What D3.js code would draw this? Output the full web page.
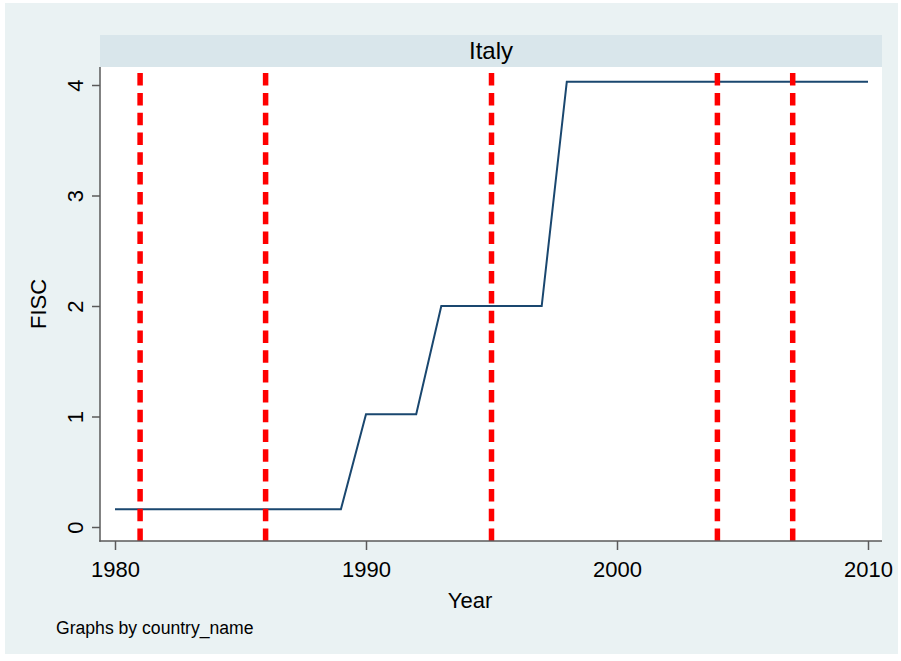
<!DOCTYPE html>
<html>
<head>
<meta charset="utf-8">
<script src="https://cdn.jsdelivr.net/npm/d3@7"></script>
<style>
  html, body { margin: 0; padding: 0; background: #ffffff; }
  svg { display: block; }
  text { font-family: "Liberation Sans", Arial, sans-serif; fill: #000; }
</style>
</head>
<body>
<svg id="chart" width="901" height="661"></svg>
<script>
// FISC index for Italy, by year
const years = [1980, 1981, 1982, 1983, 1984, 1985, 1986, 1987, 1988, 1989,
               1990, 1991, 1992, 1993, 1994, 1995, 1996, 1997, 1998, 1999,
               2000, 2001, 2002, 2003, 2004, 2005, 2006, 2007, 2008, 2009, 2010];
const fisc = [0.16, 0.16, 0.16, 0.16, 0.16, 0.16, 0.16, 0.16, 0.16, 0.16,
              1.02, 1.02, 1.02, 2.0, 2.0, 2.0, 2.0, 2.0, 4.03, 4.03,
              4.03, 4.03, 4.03, 4.03, 4.03, 4.03, 4.03, 4.03, 4.03, 4.03, 4.03];
// Years marked with vertical reference lines
const markYears = [1981, 1986, 1995, 2004, 2007];
const xTicks = [1980, 1990, 2000, 2010];
const yTicks = [0, 1, 2, 3, 4];
const panelTitle = "Italy";
const xTitle = "Year";
const yTitle = "FISC";
const note = "Graphs by country_name";

const svg = d3.select("#chart");

// plot region bounds
const plot = { left: 100, right: 882, top: 67, bottom: 541 };
const strip = { top: 35, bottom: 67 };

// outer graph background
svg.append("rect")
  .attr("x", 5).attr("y", 3).attr("width", 893).attr("height", 651)
  .attr("fill", "#eaf2f3");

// white plot region
svg.append("rect")
  .attr("x", plot.left).attr("y", plot.top)
  .attr("width", plot.right - plot.left).attr("height", plot.bottom - plot.top)
  .attr("fill", "#ffffff");

// panel strip
svg.append("rect")
  .attr("x", plot.left).attr("y", strip.top)
  .attr("width", plot.right - plot.left).attr("height", strip.bottom - strip.top)
  .attr("fill", "#d9e6eb");
svg.append("text")
  .attr("x", (plot.left + plot.right) / 2).attr("y", 59)
  .attr("text-anchor", "middle")
  .style("font-size", "24px")
  .text(panelTitle);

const x = d3.scaleLinear().domain([1980, 2010]).range([115, 868]);
const y = d3.scaleLinear().domain([0, 4]).range([527, 85]);

// data line
const line = d3.line()
  .x((d, i) => x(years[i]))
  .y(d => y(d));
svg.append("path")
  .datum(fisc)
  .attr("d", line)
  .attr("fill", "none")
  .attr("stroke", "#1a476f")
  .attr("stroke-width", 2)
  .attr("stroke-linejoin", "miter");

// dashed reference lines, drawn upward from the x axis
svg.append("g")
  .selectAll("line")
  .data(markYears)
  .join("line")
  .attr("x1", d => x(d)).attr("x2", d => x(d))
  .attr("y1", plot.bottom).attr("y2", plot.top)
  .attr("stroke", "#ff0000")
  .attr("stroke-width", 5.5)
  .attr("stroke-dasharray", "12.5,7.3");

// y axis
const yAxis = d3.axisLeft(y)
  .tickValues(yTicks)
  .tickSize(8)
  .tickPadding(0)
  .tickFormat(d3.format("d"));
const gy = svg.append("g")
  .attr("transform", `translate(${plot.left},0)`)
  .call(yAxis);
gy.select(".domain").remove();
gy.selectAll(".tick line").attr("stroke", "#5a5a5a").attr("stroke-width", 1.5);
gy.selectAll(".tick text")
  .attr("x", null).attr("dy", null)
  .attr("text-anchor", "middle")
  .attr("transform", "translate(-17,0) rotate(-90)")
  .style("font-size", "22px")
  .style("font-family", "'Liberation Sans', Arial, sans-serif")
  .attr("fill", "#000");
gy.append("line")
  .attr("x1", 0).attr("x2", 0)
  .attr("y1", plot.top).attr("y2", plot.bottom + 0.75)
  .attr("stroke", "#5a5a5a").attr("stroke-width", 1.5);

// x axis
const xAxis = d3.axisBottom(x)
  .tickValues(xTicks)
  .tickSize(9)
  .tickPadding(0)
  .tickFormat(d3.format("d"));
const gx = svg.append("g")
  .attr("transform", `translate(0,${plot.bottom})`)
  .call(xAxis);
gx.select(".domain").remove();
gx.selectAll(".tick line").attr("stroke", "#5a5a5a").attr("stroke-width", 1.5);
gx.selectAll(".tick text")
  .attr("y", 36).attr("dy", null)
  .style("font-size", "22px")
  .style("font-family", "'Liberation Sans', Arial, sans-serif")
  .attr("fill", "#000");
gx.append("line")
  .attr("x1", plot.left - 0.75).attr("x2", plot.right)
  .attr("y1", 0).attr("y2", 0)
  .attr("stroke", "#5a5a5a").attr("stroke-width", 1.5);

// axis titles
svg.append("text")
  .attr("x", 470).attr("y", 608)
  .attr("text-anchor", "middle")
  .style("font-size", "22px")
  .text(xTitle);
svg.append("text")
  .attr("transform", `translate(46,${(plot.top + plot.bottom) / 2}) rotate(-90)`)
  .attr("text-anchor", "middle")
  .style("font-size", "22px")
  .text(yTitle);

// note
svg.append("text")
  .attr("x", 56).attr("y", 634)
  .style("font-size", "17.6px")
  .text(note);
</script>
</body>
</html>
